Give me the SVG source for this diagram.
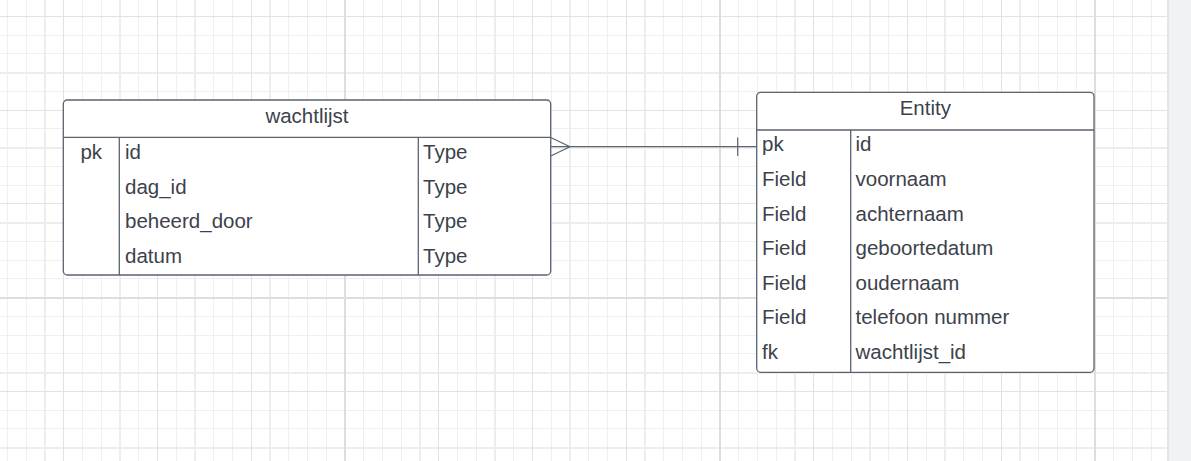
<svg xmlns="http://www.w3.org/2000/svg" width="1191" height="461" viewBox="0 0 1191 461">
  <style>
    .minor { stroke: #efefef; stroke-width: 1; fill: none; }
    .mid { stroke: #ededed; stroke-width: 2; fill: none; }
    .dark { stroke: #e2e2e2; stroke-width: 1; fill: none; }
    .major { stroke: #dddddd; stroke-width: 2; fill: none; }
    .box { fill: #ffffff; stroke: #5b6370; stroke-width: 1.3; }
    .rule { stroke: #5b6370; stroke-width: 1.3; fill: none; }
    .edge { stroke: #5b6370; stroke-width: 1.2; fill: none; }
    text { font-family: "Liberation Sans", Arial, sans-serif; font-size: 20.5px; fill: #3c424b; }
    .title { text-anchor: middle; }
  </style>

  <!-- canvas -->
  <rect x="0" y="0" width="1191" height="461" fill="#ffffff"/>

  <!-- grid -->
  <g id="grid" shape-rendering="crispEdges">
    <path class="minor" d="M7.5 0V461M26.25 0V461M45 0V461M63.75 0V461M82.5 0V461M101.25 0V461M120 0V461M138.75 0V461M157.5 0V461M176.25 0V461M195 0V461M213.75 0V461M232.5 0V461M251.25 0V461M270 0V461M288.75 0V461M307.5 0V461M326.25 0V461M345 0V461M363.75 0V461M382.5 0V461M401.25 0V461M420 0V461M438.75 0V461M457.5 0V461M476.25 0V461M495 0V461M513.75 0V461M532.5 0V461M551.25 0V461M570 0V461M588.75 0V461M607.5 0V461M626.25 0V461M645 0V461M663.75 0V461M682.5 0V461M701.25 0V461M720 0V461M738.75 0V461M757.5 0V461M776.25 0V461M795 0V461M813.75 0V461M832.5 0V461M851.25 0V461M870 0V461M888.75 0V461M907.5 0V461M926.25 0V461M945 0V461M963.75 0V461M982.5 0V461M1001.25 0V461M1020 0V461M1038.75 0V461M1057.5 0V461M1076.25 0V461M1095 0V461M1113.75 0V461M1132.5 0V461M1151.25 0V461
      M0 16.25H1167M0 35H1167M0 53.75H1167M0 72.5H1167M0 91.25H1167M0 110H1167M0 128.75H1167M0 147.5H1167M0 166.25H1167M0 185H1167M0 203.75H1167M0 222.5H1167M0 241.25H1167M0 260H1167M0 278.75H1167M0 297.5H1167M0 316.25H1167M0 335H1167M0 353.75H1167M0 372.5H1167M0 391.25H1167M0 410H1167M0 428.75H1167M0 447.5H1167"/>
    <path class="mid" d="M45 0V461M120 0V461M195 0V461M270 0V461M420 0V461M495 0V461M570 0V461M645 0V461M795 0V461M870 0V461M945 0V461M1020 0V461
      M0 72.5H1167M0 147.5H1167M0 222.5H1167M0 372.5H1167M0 447.5H1167"/>
    <path class="dark" d="M63.75 0V461M157.5 0V461M251.25 0V461M438.75 0V461M532.5 0V461M626.25 0V461M813.75 0V461M907.5 0V461M1001.25 0V461
      M0 16.25H1167M0 110H1167M0 203.75H1167M0 391.25H1167"/>
    <path class="major" d="M345 0V461M720 0V461M1095 0V461M0 297.5H1167"/>
  </g>

  <!-- side strip -->
  <rect x="1167" y="0" width="24" height="461" fill="#f1f2f4"/>
  <rect x="1167" y="0" width="2" height="461" fill="#e4e5e9"/>

  <!-- connectors -->
  <g id="connectors">
    <path class="edge" d="M550.7 146.7H756.7"/>
    <!-- crow's foot (many) -->
    <path class="edge" d="M550.7 137.5L570 146.7L550.7 156"/>
    <!-- single bar (one) -->
    <path class="edge" d="M737.7 137.5V156"/>
  </g>

  <!-- wachtlijst table -->
  <g id="wachtlijst">
    <rect class="box" x="63.3" y="100" width="487.4" height="175" rx="4"/>
    <path class="rule" d="M63.3 137.3H550.7M119.3 137.3V275M418.3 137.3V275"/>
    <text class="title" x="307" y="123">wachtlijst</text>
    <text x="91.3" y="159" text-anchor="middle">pk</text>
    <text x="125" y="159">id</text>
    <text x="125" y="193.5">dag_id</text>
    <text x="125" y="228">beheerd_door</text>
    <text x="125" y="262.5">datum</text>
    <text x="423" y="159">Type</text>
    <text x="423" y="193.5">Type</text>
    <text x="423" y="228">Type</text>
    <text x="423" y="262.5">Type</text>
  </g>

  <!-- Entity table -->
  <g id="entity">
    <rect class="box" x="756.7" y="92.3" width="337.3" height="280" rx="4"/>
    <path class="rule" d="M756.7 130H1094M850.7 130V372.3"/>
    <text class="title" x="925.3" y="115">Entity</text>
    <text x="762" y="151">pk</text>
    <text x="762" y="186">Field</text>
    <text x="762" y="220.5">Field</text>
    <text x="762" y="255">Field</text>
    <text x="762" y="289.5">Field</text>
    <text x="762" y="324">Field</text>
    <text x="762" y="358.5">fk</text>
    <text x="855.5" y="151">id</text>
    <text x="855.5" y="186">voornaam</text>
    <text x="855.5" y="220.5">achternaam</text>
    <text x="855.5" y="255">geboortedatum</text>
    <text x="855.5" y="289.5">oudernaam</text>
    <text x="855.5" y="324">telefoon nummer</text>
    <text x="855.5" y="358.5">wachtlijst_id</text>
  </g>
</svg>
